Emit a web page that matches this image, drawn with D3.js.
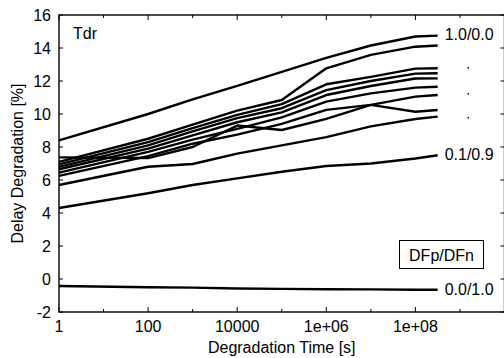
<!DOCTYPE html>
<html><head><meta charset="utf-8">
<script src="https://cdn.jsdelivr.net/npm/d3@7"></script>
<style>
body{margin:0;background:#fff;}
svg{display:block;font-family:"Liberation Sans",Arial,Helvetica,sans-serif;}
</style></head>
<body><svg id="c" width="504" height="358"></svg>
<script>
const timePoints = [1, 100, 1e3, 1e4, 1e5, 1e6, 1e7, 1e8, 3.16e8];
const seriesNames = ["1.0/0.0","0.9/0.1","0.8/0.2","0.7/0.3","0.6/0.4","0.5/0.5","0.4/0.6","0.3/0.7","0.2/0.8","0.1/0.9","0.0/1.0"];
const s10 = [8.4, 10.0, 10.88, 11.7, 12.55, 13.4, 14.15, 14.7, 14.75];
const s09 = [7.1, 8.5, 9.35, 10.2, 10.85, 12.77, 13.58, 14.08, 14.15];
const s08 = [6.95, 8.3, 9.15, 9.95, 10.6, 11.8, 12.25, 12.75, 12.77];
const s07 = [6.8, 8.1, 8.95, 9.75, 10.35, 11.45, 12.0, 12.45, 12.47];
const s06 = [6.65, 7.9, 8.7, 9.5, 10.1, 11.15, 11.7, 12.15, 12.16];
const s05 = [6.45, 7.7, 8.45, 9.1, 9.8, 10.75, 11.25, 11.6, 11.65];
const s04 = [6.25, 7.45, 8.2, 8.75, 9.4, 10.25, 10.55, 11.05, 11.15];
const s03 = [7.37, 7.33, 8.0, 9.3, 9.03, 9.7, 10.55, 10.14, 10.24];
const s02 = [5.7, 6.8, 6.97, 7.6, 8.1, 8.6, 9.25, 9.7, 9.84];
const s01 = [4.3, 5.2, 5.7, 6.1, 6.5, 6.85, 7.0, 7.3, 7.5];
const s00 = [-0.42, -0.5, -0.52, -0.58, -0.6, -0.62, -0.63, -0.65, -0.65];
const seriesValues = [s10, s09, s08, s07, s06, s05, s04, s03, s02, s01, s00];
const labelledSeries = [0, 9, 10];
const ellipsisValues = [12.79, 11.21, 9.76];
const xTickLabels = ["1", "100", "10000", "1e+06", "1e+08"];
const xTickValues = [1, 100, 1e4, 1e6, 1e8];
const yTickValues = [-2, 0, 2, 4, 6, 8, 10, 12, 14, 16];

const svg = d3.select("#c");
const L = 59, R = 504.5, T = 15, B = 312;
const x = d3.scaleLog().domain([1, 1e10]).range([L, R]);
const y = d3.scaleLinear().domain([-2, 16]).range([B, T]);
const FS = 16;

// frame
svg.append("rect").attr("x", L).attr("y", T).attr("width", R - L).attr("height", B - T)
  .attr("fill", "none").attr("stroke", "#000").attr("stroke-width", 1.4);

const decades = d3.range(0, 11).map(d => Math.pow(10, d));
// bottom and top ticks
decades.forEach((d, i) => {
  const major = i % 2 === 0;
  const len = major ? 5 : 3;
  svg.append("line").attr("x1", x(d)).attr("x2", x(d)).attr("y1", B).attr("y2", B - len).attr("stroke", "#000").attr("stroke-width", 1);
  svg.append("line").attr("x1", x(d)).attr("x2", x(d)).attr("y1", T).attr("y2", T + len).attr("stroke", "#000").attr("stroke-width", 1);
});
xTickValues.forEach((v, i) => {
  svg.append("text").attr("x", x(v)).attr("y", B + 20).attr("text-anchor", "middle")
    .attr("font-size", FS).attr("fill", "#000").text(xTickLabels[i]);
});
yTickValues.forEach(v => {
  svg.append("line").attr("x1", L).attr("x2", L + 4).attr("y1", y(v)).attr("y2", y(v)).attr("stroke", "#000");
  svg.append("line").attr("x1", R).attr("x2", R - 4).attr("y1", y(v)).attr("y2", y(v)).attr("stroke", "#000");
  svg.append("text").attr("x", L - 8).attr("y", y(v)).attr("dy", "0.36em").attr("text-anchor", "end")
    .attr("font-size", FS).attr("fill", "#000").text(v);
});

// axis titles
svg.append("text").attr("x", (L + R) / 2).attr("y", 353).attr("text-anchor", "middle")
  .attr("font-size", FS).attr("fill", "#000").text("Degradation Time [s]");
svg.append("text").attr("transform", `translate(23,${(T + B) / 2}) rotate(-90)`).attr("text-anchor", "middle")
  .attr("font-size", FS).attr("fill", "#000").text("Delay Degradation [%]");
svg.append("text").attr("x", 73).attr("y", 39).attr("font-size", FS).attr("fill", "#000").text("Tdr");

// lines
const line = d3.line().x((d, i) => x(timePoints[i])).y(d => y(d));
svg.append("g").selectAll("path").data(seriesValues).join("path")
  .attr("d", d => line(d)).attr("fill", "none").attr("stroke", "#000")
  .attr("stroke-width", 2.4).attr("stroke-linejoin", "round");

// end labels
labelledSeries.forEach(i => {
  const vals = seriesValues[i];
  svg.append("text").attr("x", x(timePoints[timePoints.length - 1]) + 7).attr("y", y(vals[vals.length - 1]))
    .attr("dy", "0.3em").attr("font-size", FS).attr("fill", "#000").text(seriesNames[i]);
});
ellipsisValues.forEach(v => {
  svg.append("rect").attr("x", 467.5).attr("y", y(v) - 1).attr("width", 1.5).attr("height", 1.5).attr("fill", "#000");
});

// legend box
svg.append("rect").attr("x", 399.5).attr("y", 240.5).attr("width", 84).attr("height", 28)
  .attr("fill", "#fff").attr("stroke", "#000").attr("stroke-width", 1);
svg.append("text").attr("x", 441.5).attr("y", 255).attr("dy", "0.36em").attr("text-anchor", "middle")
  .attr("font-size", FS).attr("fill", "#000").text("DFp/DFn");
</script></body></html>
